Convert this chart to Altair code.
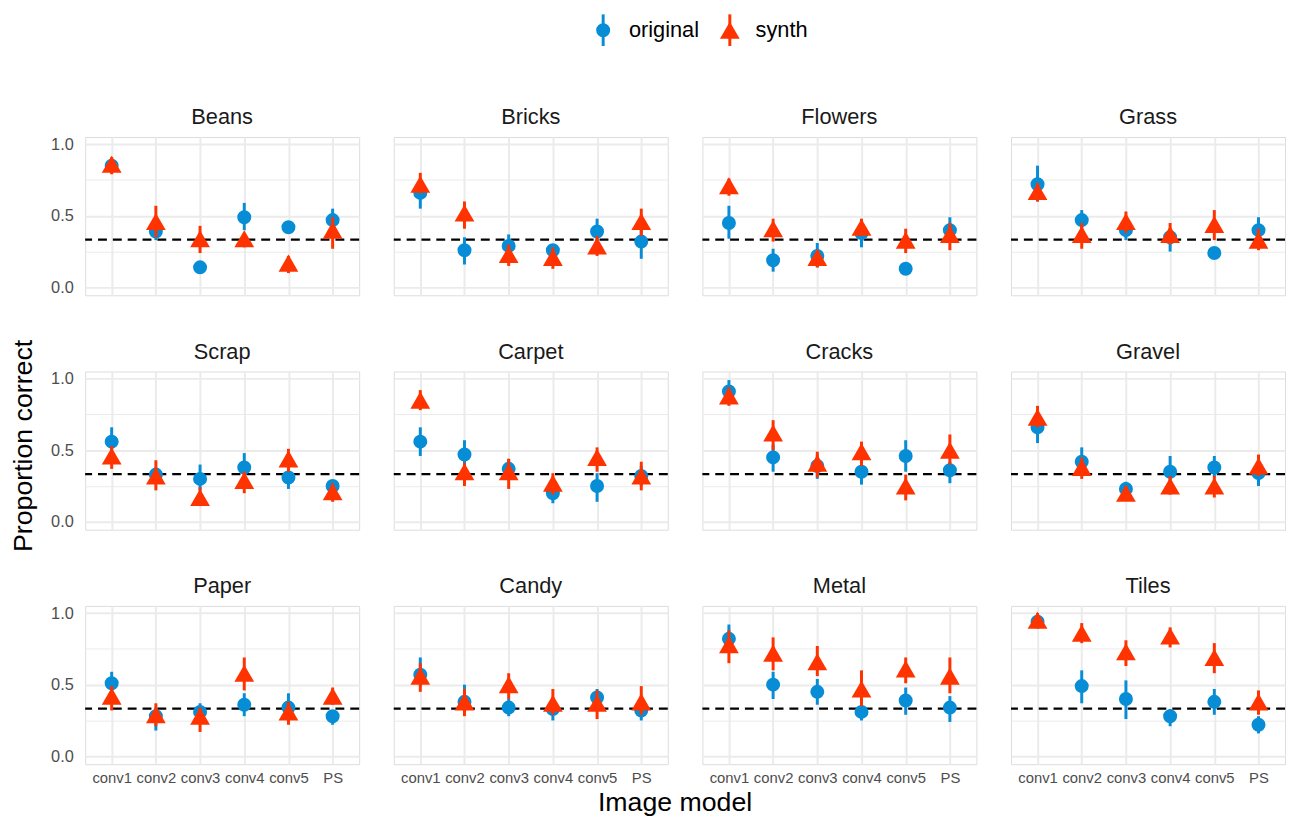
import altair as alt
import pandas as pd

textures = ["Beans", "Bricks", "Flowers", "Grass",
            "Scrap", "Carpet", "Cracks", "Gravel",
            "Paper", "Candy", "Metal", "Tiles"]
models = ["conv1", "conv2", "conv3", "conv4", "conv5", "PS"]
series_names = ["original", "synth"]

# means per texture (rows) and model (columns)
orig_mean = [
    [0.85, 0.39, 0.14, 0.49, 0.42, 0.47],
    [0.66, 0.26, 0.29, 0.26, 0.39, 0.32],
    [0.45, 0.19, 0.22, 0.38, 0.13, 0.40],
    [0.72, 0.47, 0.40, 0.35, 0.24, 0.40],
    [0.56, 0.33, 0.30, 0.38, 0.31, 0.25],
    [0.56, 0.47, 0.37, 0.20, 0.25, 0.32],
    [0.91, 0.45, 0.39, 0.35, 0.46, 0.36],
    [0.66, 0.42, 0.23, 0.35, 0.38, 0.34],
    [0.51, 0.28, 0.31, 0.36, 0.34, 0.28],
    [0.57, 0.38, 0.34, 0.33, 0.41, 0.32],
    [0.82, 0.50, 0.45, 0.31, 0.39, 0.34],
    [0.94, 0.49, 0.40, 0.28, 0.38, 0.22],
]
orig_lo = [
    [0.81, 0.33, 0.11, 0.40, 0.39, 0.40],
    [0.55, 0.16, 0.21, 0.21, 0.30, 0.20],
    [0.34, 0.11, 0.14, 0.28, 0.11, 0.33],
    [0.60, 0.41, 0.33, 0.25, 0.21, 0.33],
    [0.46, 0.29, 0.22, 0.30, 0.23, 0.20],
    [0.46, 0.37, 0.32, 0.13, 0.14, 0.25],
    [0.85, 0.35, 0.30, 0.26, 0.35, 0.27],
    [0.55, 0.33, 0.18, 0.25, 0.31, 0.25],
    [0.44, 0.18, 0.24, 0.28, 0.24, 0.22],
    [0.49, 0.31, 0.28, 0.25, 0.33, 0.25],
    [0.76, 0.40, 0.36, 0.25, 0.29, 0.24],
    [0.91, 0.37, 0.26, 0.21, 0.29, 0.16],
]
orig_hi = [
    [0.89, 0.45, 0.17, 0.59, 0.45, 0.55],
    [0.70, 0.35, 0.37, 0.30, 0.48, 0.41],
    [0.57, 0.27, 0.31, 0.45, 0.16, 0.49],
    [0.85, 0.54, 0.48, 0.41, 0.27, 0.49],
    [0.66, 0.37, 0.40, 0.48, 0.37, 0.29],
    [0.66, 0.57, 0.44, 0.25, 0.34, 0.39],
    [0.99, 0.54, 0.47, 0.42, 0.57, 0.42],
    [0.71, 0.52, 0.28, 0.46, 0.46, 0.41],
    [0.59, 0.34, 0.37, 0.44, 0.44, 0.32],
    [0.69, 0.50, 0.40, 0.40, 0.47, 0.38],
    [0.92, 0.59, 0.54, 0.37, 0.48, 0.42],
    [0.97, 0.60, 0.53, 0.33, 0.47, 0.28],
]
synth_mean = [
    [0.86, 0.46, 0.34, 0.34, 0.17, 0.40],
    [0.72, 0.52, 0.23, 0.21, 0.29, 0.46],
    [0.71, 0.41, 0.21, 0.42, 0.33, 0.37],
    [0.67, 0.37, 0.46, 0.37, 0.44, 0.33],
    [0.46, 0.32, 0.17, 0.29, 0.44, 0.21],
    [0.85, 0.35, 0.35, 0.27, 0.45, 0.32],
    [0.88, 0.62, 0.41, 0.49, 0.25, 0.50],
    [0.73, 0.38, 0.20, 0.25, 0.25, 0.39],
    [0.42, 0.29, 0.28, 0.58, 0.31, 0.42],
    [0.56, 0.38, 0.50, 0.37, 0.37, 0.38],
    [0.78, 0.72, 0.66, 0.47, 0.61, 0.56],
    [0.95, 0.86, 0.73, 0.84, 0.69, 0.38],
]
synth_lo = [
    [0.79, 0.35, 0.24, 0.28, 0.10, 0.27],
    [0.66, 0.41, 0.15, 0.13, 0.22, 0.36],
    [0.64, 0.32, 0.14, 0.36, 0.24, 0.26],
    [0.60, 0.27, 0.38, 0.30, 0.33, 0.26],
    [0.37, 0.22, 0.11, 0.20, 0.35, 0.14],
    [0.78, 0.25, 0.23, 0.19, 0.35, 0.22],
    [0.81, 0.50, 0.31, 0.39, 0.15, 0.40],
    [0.66, 0.30, 0.15, 0.19, 0.17, 0.32],
    [0.32, 0.21, 0.17, 0.46, 0.22, 0.36],
    [0.45, 0.28, 0.40, 0.29, 0.26, 0.29],
    [0.65, 0.60, 0.56, 0.35, 0.51, 0.44],
    [0.90, 0.79, 0.63, 0.76, 0.58, 0.29],
]
synth_hi = [
    [0.91, 0.57, 0.43, 0.37, 0.22, 0.49],
    [0.80, 0.60, 0.30, 0.28, 0.36, 0.55],
    [0.76, 0.48, 0.26, 0.48, 0.41, 0.45],
    [0.73, 0.45, 0.53, 0.45, 0.54, 0.41],
    [0.53, 0.43, 0.24, 0.35, 0.51, 0.27],
    [0.92, 0.41, 0.44, 0.34, 0.52, 0.42],
    [0.94, 0.71, 0.49, 0.56, 0.33, 0.61],
    [0.81, 0.45, 0.25, 0.32, 0.32, 0.47],
    [0.49, 0.37, 0.34, 0.69, 0.38, 0.48],
    [0.65, 0.47, 0.58, 0.47, 0.46, 0.49],
    [0.88, 0.83, 0.77, 0.60, 0.69, 0.69],
    [1.00, 0.93, 0.81, 0.90, 0.79, 0.46],
]
chance_level = [1 / 3]

rows = []
for ti, t in enumerate(textures):
    for mi, m in enumerate(models):
        rows.append(dict(texture=t, model=m, series="original",
                         mean=orig_mean[ti][mi], lo=orig_lo[ti][mi], hi=orig_hi[ti][mi]))
        rows.append(dict(texture=t, model=m, series="synth",
                         mean=synth_mean[ti][mi], lo=synth_lo[ti][mi], hi=synth_hi[ti][mi]))
df = pd.DataFrame(rows)

FONT = "Liberation Sans"
BLUE = "#078DD6"
RED = "#FF3300"
GRID = "#EBEBEB"

color_scale = alt.Scale(domain=series_names, range=[BLUE, RED])

x_enc = alt.X("model:N", sort=models,
              scale=alt.Scale(type="point", domain=models, padding=0.6),
              axis=alt.Axis(title=None, labelAngle=0, domain=False, ticks=False, grid=True,
                            labelFontSize=15, labelColor="#4D4D4D", labelPadding=6,
                            labelFont=FONT, gridColor=GRID, gridWidth=2))
y_scale = alt.Scale(domain=[-0.055, 1.05], nice=False, zero=False)
y_axis = alt.Axis(title=None, values=[0, 0.25, 0.5, 0.75, 1.0], grid=True,
                  labelExpr="(datum.value == 0.25 || datum.value == 0.75) ? '' : format(datum.value, '.1f')",
                  gridWidth={"condition": {"test": "datum.value == 0.25 || datum.value == 0.75", "value": 1},
                             "value": 2},
                  gridColor=GRID, domain=False, ticks=False, labelFontSize=16.5,
                  labelColor="#4D4D4D", labelPadding=10, labelFont=FONT)

color_enc = alt.Color("series:N", scale=color_scale, legend=None)

dash = alt.Chart().transform_filter(
    (alt.datum.model == "conv1") & (alt.datum.series == "original")
).mark_rule(color="black", strokeWidth=2.3, strokeDash=[9, 6]).encode(
    y=alt.Y(datum=chance_level[0], type="quantitative", scale=y_scale, axis=y_axis),
)


def err(series):
    return alt.Chart().transform_filter(alt.datum.series == series).mark_rule(strokeWidth=3).encode(
        x=x_enc,
        y=alt.Y("lo:Q", scale=y_scale, axis=y_axis),
        y2="hi:Q",
        color=color_enc,
    )


def pts(series, shape, size):
    return alt.Chart().transform_filter(alt.datum.series == series).mark_point(
        filled=True, opacity=1, shape=shape, size=size
    ).encode(
        x=x_enc,
        y=alt.Y("mean:Q", scale=y_scale, axis=y_axis),
        color=color_enc,
    )


panel = alt.layer(
    dash,
    err("original"), pts("original", "circle", 200),
    err("synth"), pts("synth", "triangle-up", 400),
    data=df,
).properties(width=277, height=160)

facet = panel.facet(
    facet=alt.Facet("texture:N", sort=textures, title=None,
                    header=alt.Header(labelFontSize=22, labelColor="#1A1A1A",
                                      labelFont=FONT, labelPadding=8)),
    columns=4,
    spacing={"row": 44, "column": 31},
).properties(
    title=alt.TitleParams("Proportion correct", orient="left", anchor="middle",
                          fontSize=27, fontWeight="normal", font=FONT, color="black", offset=13)
)

# custom legend (point + vertical line glyphs)
leg_df = pd.DataFrame({"series": series_names, "slot": list(range(len(series_names)))})
leg_x = alt.X("slot:Q", scale=alt.Scale(domain=[-4.09, 5.29], nice=False, zero=False), axis=None)
leg_rule = alt.Chart(leg_df).mark_rule(strokeWidth=3).encode(x=leg_x, color=color_enc)
leg_pts = alt.Chart(leg_df).mark_point(filled=True, opacity=1).encode(
    x=leg_x, color=color_enc,
    shape=alt.Shape("series:N", scale=alt.Scale(domain=series_names, range=["circle", "triangle-up"]), legend=None),
    size=alt.Size("series:N", scale=alt.Scale(domain=series_names, range=[200, 400]), legend=None),
)
leg_txt = alt.Chart(leg_df).mark_text(align="left", dx=26, fontSize=22, color="black", font=FONT).encode(
    x=leg_x, text="series:N")
legend = alt.layer(leg_rule, leg_pts, leg_txt).properties(
    width=1201, height=32, view=alt.ViewBackground(stroke="transparent", strokeWidth=0))

chart = alt.vconcat(legend, facet, spacing=58).properties(
    title=alt.TitleParams("Image model", orient="bottom", anchor="middle", fontSize=27,
                          fontWeight="normal", font=FONT, color="black", offset=4, dx=27),
    padding={"left": 2, "top": 0, "right": 0, "bottom": 0},
).configure_view(stroke="transparent", strokeWidth=0).configure(font=FONT)

chart.save("out.html", embed_options={"renderer": "svg", "actions": False})
